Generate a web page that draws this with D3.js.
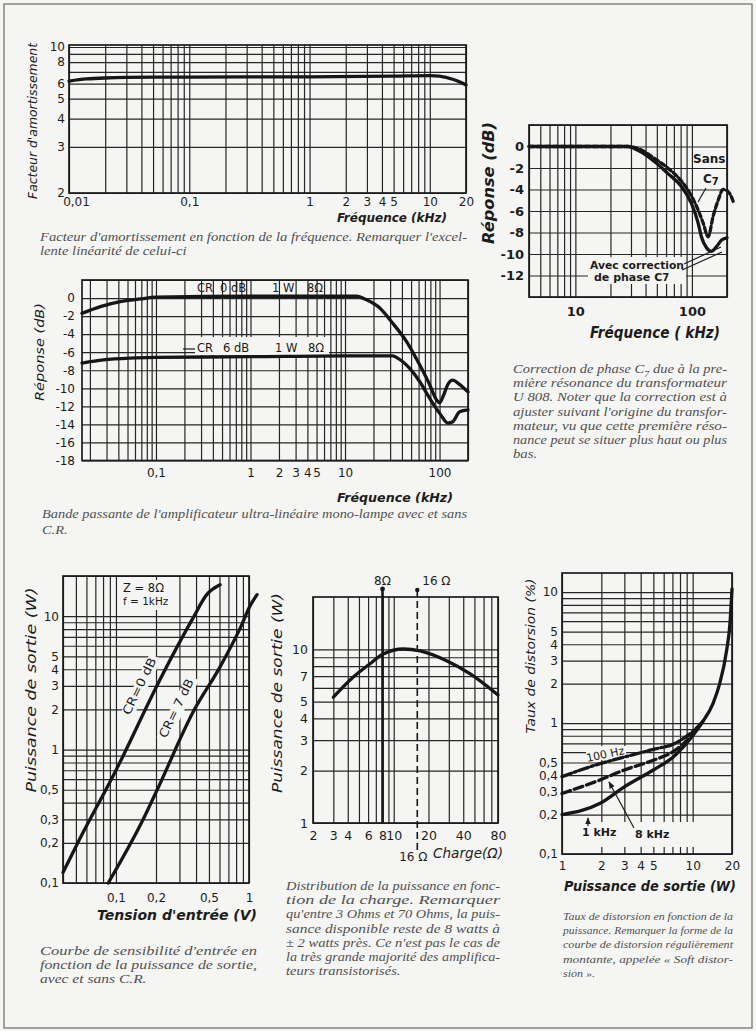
<!DOCTYPE html>
<meta charset="utf-8">
<style>
body { margin: 0; background: #f5f5f3; }
svg { display: block; }
.grid line { stroke: #262626; stroke-width: 1.2; }
.grid path, .lab path { display: none; }
.lab text { font-family: "DejaVu Sans", sans-serif; fill: #1c1c1c; }
.frame { fill: none; stroke: #1c1c1c; stroke-width: 1.7; }
.curve { fill: none; stroke: #161616; stroke-width: 3.3; stroke-linejoin: round; stroke-linecap: round; }
.ttl { font-family: "DejaVu Sans", sans-serif; font-style: italic; fill: #1c1c1c; }
.note { font-family: "DejaVu Sans", sans-serif; fill: #1c1c1c; }
.cap { font-family: "Liberation Serif", serif; font-style: italic; fill: #505050; font-size: 11.5px; }
.lead { stroke: #1c1c1c; stroke-width: 1.2; fill: none; }
</style>
<body>
<script src="https://d3js.org/d3.v7.min.js"></script>
<script>
var PAPER = "#f5f5f3";

// damping factor vs frequency (kHz)
var dampFreq   = [0.01, 0.014, 0.02, 0.05, 0.1, 1, 5, 10, 12, 15.7, 18, 20];
var dampFactor = [6.2, 6.37, 6.45, 6.52, 6.53, 6.55, 6.6, 6.65, 6.6, 6.32, 6.1, 5.9];
var dampXLabels = [0.01, 0.1, 1, 2, 3, 4, 5, 10, 20];
var dampYLabels = [2, 3, 4, 5, 6, 8, 10];

// phase correction C7 (kHz, dB)
var phaseFreqAvec = [4, 10, 20, 28, 36.5, 47.6, 62, 81, 99, 113, 120.6, 133, 147, 163, 180, 200];
var phaseAvec     = [0, 0, 0, 0, -0.5, -1.4, -2.5, -3.7, -5.3, -7.1, -8.4, -9.4, -9.75, -9.3, -8.7, -8.5];
var phaseFreqSans = [4, 10, 20, 28, 36.5, 47.6, 62, 81, 99, 113, 124.7, 137.7, 152, 168, 185, 205, 226];
var phaseSans     = [0, 0, 0, 0, -0.3, -1.1, -2.0, -3.2, -4.6, -5.9, -7.1, -8.4, -6.5, -5.0, -4.0, -4.2, -5.1];
var phaseXLabels = [10, 100];
var phaseYLabels = [0, -2, -4, -6, -8, -10, -12];

// bandwidth with and without CR (kHz, dB)
var bandFreq0 = [0.0165, 0.0258, 0.0419, 0.0684, 0.1, 1, 10, 13.2, 16.9, 23.3, 32, 44.6, 61.6, 78.6, 93, 100, 110, 122, 138, 160, 200];
var bandCR0   = [-1.7, -0.95, -0.4, -0.1, 0.1, 0.2, 0.2, 0.2, -0.2, -1.1, -2.8, -4.8, -7.4, -9.6, -11.3, -11.6, -10.8, -9.6, -9.1, -9.5, -10.4];
var bandFreq6 = [0.0165, 0.0278, 0.0538, 0.1, 1, 10, 32, 36, 48.4, 61.6, 78.6, 100, 122.7, 138, 163, 200];
var bandCR6   = [-7.2, -6.85, -6.65, -6.58, -6.5, -6.4, -6.4, -6.65, -7.8, -9.25, -11.1, -12.75, -13.85, -13.7, -12.6, -12.4];
var bandXLabels = [0.1, 1, 2, 3, 4, 5, 10, 100];
var bandYLabels = [0, -2, -4, -6, -8, -10, -12, -14, -16, -18];

// input sensitivity (V, W)
var sensV0 = [0.04, 0.0507, 0.101, 0.216, 0.38, 0.481, 0.606];
var sensP0 = [0.12, 0.193, 0.713, 3.4, 9.7, 14.5, 17.2];
var sensV7 = [0.0875, 0.16, 0.208, 0.38, 0.606, 0.857, 1.03, 1.15];
var sensP7 = [0.1, 0.299, 0.52, 1.91, 4.17, 8.1, 12.2, 14.5];
var sensXLabels = [0.1, 0.2, 0.5, 1];
var sensYLabels = [0.1, 0.2, 0.3, 0.5, 1, 2, 3, 4, 5, 10];

// power vs load (ohm, W)
var loadOhm   = [3, 4.47, 6.23, 8.1, 12.1, 16.9, 28.7, 45.7, 80];
var loadPower = [5.3, 6.93, 8.25, 9.4, 10.04, 9.8, 8.6, 7.24, 5.46];
var loadXLabels = [2, 3, 4, 6, 8, 10, 20, 40, 80];
var loadYLabels = [1, 2, 3, 4, 5, 7, 10];

// distortion vs output power (W, %)
var distP1k   = [1, 1.96, 3, 5, 7.1, 10.1, 11.9, 14.3, 16.1, 18.2, 19.3, 20];
var dist1k    = [0.2, 0.244, 0.326, 0.438, 0.55, 0.81, 1.02, 1.41, 2.0, 3.6, 5.77, 10.6];
var distPlow  = [1, 1.96, 3, 5, 7.1, 10.1, 11.9];
var dist8k    = [0.29, 0.368, 0.438, 0.52, 0.605, 0.83, 1.02];
var dist100   = [0.39, 0.49, 0.55, 0.63, 0.69, 0.87, 1.02];
var distXLabels = [1, 2, 3, 4, 5, 10, 20];
var distYLabels = [0.1, 0.2, 0.3, 0.4, 0.5, 1, 2, 3, 4, 5, 10];

var svg = d3.select("body").append("svg").attr("width", 756).attr("height", 1031);
svg.append("rect").attr("width", 756).attr("height", 1031).attr("fill", PAPER);
svg.append("rect").attr("x", 4).attr("y", 4).attr("width", 748).attr("height", 1024)
   .attr("fill", "none").attr("stroke", "#6a6a6a").attr("stroke-width", 1.2);

var defs = svg.append("defs");
defs.append("marker").attr("id", "arr").attr("viewBox", "0 0 10 10").attr("refX", 9).attr("refY", 5)
    .attr("markerWidth", 6).attr("markerHeight", 6).attr("orient", "auto")
  .append("path").attr("d", "M0,1 L10,5 L0,9 z").attr("fill", "#1c1c1c");

function fr(d) { return String(d).replace(".", ","); }

// 1..9 x 10^k gridline values between lo and hi
function decades(lo, hi) {
  var out = [];
  for (var e = Math.floor(Math.log10(lo) + 1e-9); Math.pow(10, e) <= hi * 1.0001; e++)
    for (var m = 1; m < 10; m++) {
      var v = +(m * Math.pow(10, e)).toPrecision(6);
      if (v >= lo * 0.9999 && v <= hi * 1.0001) out.push(v);
    }
  return out;
}

function panel(p) {
  var w = p.right - p.left, h = p.bottom - p.top;
  var g = svg.append("g");
  g.append("g").attr("class", "grid")
    .attr("transform", "translate(0," + p.bottom + ")")
    .call(d3.axisBottom(p.x).tickValues(p.xGrid).tickSize(-h).tickFormat(""));
  g.append("g").attr("class", "grid")
    .attr("transform", "translate(" + p.left + ",0)")
    .call(d3.axisLeft(p.y).tickValues(p.yGrid).tickSize(-w).tickFormat(""));
  p.xAxis = g.append("g").attr("class", "lab")
    .attr("transform", "translate(0," + p.bottom + ")")
    .call(d3.axisBottom(p.x).tickValues(p.xLabels).tickSize(0).tickPadding(p.xPad).tickFormat(fr))
    .attr("font-size", p.fs).attr("font-weight", p.fw || "normal");
  g.append("g").attr("class", "lab")
    .attr("transform", "translate(" + p.left + ",0)")
    .call(d3.axisLeft(p.y).tickValues(p.yLabels).tickSize(0).tickPadding(p.yPad).tickFormat(fr))
    .attr("font-size", p.fs).attr("font-weight", p.fw || "normal");
  p.g = g;
  return p;
}

function frame(p) {
  p.g.append("rect").attr("class", "frame").attr("x", p.left).attr("y", p.top)
     .attr("width", p.right - p.left).attr("height", p.bottom - p.top);
}

function mask(x, y, w, h) {
  svg.append("rect").attr("x", x).attr("y", y).attr("width", w).attr("height", h).attr("fill", PAPER);
}

function curve(p, xs, ys, width, dash) {
  var line = d3.line().x(function(d) { return p.x(d[0]); }).y(function(d) { return p.y(d[1]); })
               .curve(d3.curveMonotoneX);
  svg.append("path").attr("class", "curve").attr("d", line(d3.zip(xs, ys)))
     .attr("stroke-width", width).attr("stroke-dasharray", dash || null)
     .attr("stroke-linecap", dash ? "butt" : "round");
}

function text(x, y, s, size, cls, opts) {
  opts = opts || {};
  var t = svg.append("text").attr("class", cls || "note").attr("x", x).attr("y", y)
     .attr("font-size", size).text(s);
  if (opts.anchor) t.attr("text-anchor", opts.anchor);
  if (opts.bold) t.attr("font-weight", "bold");
  if (opts.rot) t.attr("transform", "rotate(" + opts.rot + "," + x + "," + y + ")");
  if (opts.len) t.attr("textLength", opts.len).attr("lengthAdjust", "spacingAndGlyphs");
  return t;
}

function vtitle(cx, cy, s, size, bold, len) {
  return text(cx, cy, s, size, "ttl", {anchor: "middle", rot: -90, bold: bold, len: len});
}

// justified caption; the last line gets the same horizontal stretch as the others
function caption(x, y0, width, step, lines, size) {
  var nodes = lines.map(function(s, i) {
    var t = svg.append("text").attr("class", "cap").attr("x", x).attr("y", y0 + i * step);
    if (size) t.style("font-size", size + "px");
    if (Array.isArray(s)) {
      t.append("tspan").text(s[0]);
      t.append("tspan").attr("font-size", 8).attr("dy", 4).text(s[1]);
      t.append("tspan").attr("dy", -4).text(s[2]);
    } else t.text(s);
    return t;
  });
  var ratios = [];
  nodes.forEach(function(t, i) {
    var nat = t.node().getComputedTextLength();
    if (i < nodes.length - 1) { ratios.push(width / nat); t.attr("textLength", width); }
    t.attr("lengthAdjust", "spacingAndGlyphs");
  });
  var last = nodes[nodes.length - 1];
  var r = Math.min(d3.median(ratios) || 1, 1.35);
  last.attr("textLength", last.node().getComputedTextLength() * r);
}

function lead(x1, y1, x2, y2, arrow) {
  svg.append("line").attr("class", "lead").attr("x1", x1).attr("y1", y1).attr("x2", x2).attr("y2", y2)
     .attr("marker-end", arrow ? "url(#arr)" : null);
}

// ---------- 1. Facteur d'amortissement ----------
var p1 = panel({
  x: d3.scaleLog().domain([0.01, 20]).range([69, 466]),
  y: d3.scalePow().exponent(-0.4).domain([2, 10]).range([193, 47]),
  left: 69, right: 466, top: 45, bottom: 193,
  xGrid: decades(0.01, 10).concat([20]), yGrid: [2, 3, 4, 5, 6, 7, 8, 9, 10],
  xLabels: dampXLabels, yLabels: dampYLabels, fs: 12, xPad: 4, yPad: 4
});
p1.xAxis.selectAll("text").filter(function(d) { return d === 0.01; }).attr("dx", 7);
frame(p1);
curve(p1, dampFreq, dampFactor, 3.2);
vtitle(37, 121, "Facteur d'amortissement", 12, false, 156);
text(337, 222, "Fréquence  (kHz)", 13, "ttl", {bold: true, len: 110});
caption(40, 241, 427, 14, [
  "Facteur d'amortissement en fonction de la fréquence. Remarquer l'excel-",
  "lente linéarité de celui-ci"]);

// ---------- 2. Correction de phase ----------
var p2 = panel({
  x: d3.scaleLog().domain([4, 200]).range([529, 727]),
  y: d3.scaleLinear().domain([2, -14]).range([125, 297]),
  left: 529, right: 727, top: 125, bottom: 297,
  xGrid: decades(4, 100).concat([200]), yGrid: d3.range(2, -15, -2),
  xLabels: phaseXLabels, yLabels: phaseYLabels, fs: 13, fw: "bold", xPad: 10, yPad: 5
});
mask(588, 257, 98, 27);
frame(p2);
curve(p2, phaseFreqAvec, phaseAvec, 3.6);
curve(p2, phaseFreqSans, phaseSans, 3.0, "5,3");
vtitle(494, 183, "Réponse (dB)", 15, true, 122);
text(590, 338, "Fréquence ( kHz)", 15, "ttl", {bold: true, len: 130});
text(693, 163, "Sans", 12, "note", {bold: true});
var c7 = text(703, 183, "C", 12, "note", {bold: true});
c7.append("tspan").attr("font-size", 10).attr("dy", 2).text("7");
lead(706, 188, 698, 202, false);
text(590, 269, "Avec correction", 11, "note", {bold: true, len: 94});
var ph = text(594, 281, "de phase C", 11, "note", {bold: true});
ph.append("tspan").attr("font-size", 10).text("7");
lead(684, 264, 721, 247, false);
lead(682, 270, 722, 252, false);
caption(513, 373, 214, 14.2, [
  ["Correction de phase C", "7", " due à la pre-"],
  "mière résonance du transformateur",
  "U 808. Noter que la correction est à",
  "ajuster suivant l'origine du transfor-",
  "mateur, vu que cette première réso-",
  "nance peut se situer plus haut ou plus",
  "bas."]);

// ---------- 3. Bande passante ----------
var p3 = panel({
  x: d3.scaleLog().domain([0.0165, 200]).range([82, 468]),
  y: d3.scaleLinear().domain([2, -18]).range([280, 460.5]),
  left: 82, right: 468, top: 280, bottom: 460.5,
  xGrid: decades(0.02, 100).concat([200]), yGrid: d3.range(2, -19, -2),
  xLabels: bandXLabels, yLabels: bandYLabels, fs: 12, xPad: 8, yPad: 7
});
mask(195, 337, 134, 18);
frame(p3);
curve(p3, bandFreq0, bandCR0, 3.2);
curve(p3, bandFreq6, bandCR6, 3.2);
[["CR", 197], ["0 dB", 220], ["1 W", 272], ["8Ω", 307]].forEach(function(d) { text(d[1], 292, d[0], 11.5); });
[["CR", 197], ["6 dB", 223], ["1 W", 275], ["8Ω", 308]].forEach(function(d) { text(d[1], 352, d[0], 11.5); });
lead(183, 349, 195, 349, false);
vtitle(44, 352, "Réponse  (dB)", 13, false, 98);
text(337, 502, "Fréquence   (kHz)", 13, "ttl", {bold: true, len: 116});
caption(42, 518, 425, 16, [
  "Bande passante de l'amplificateur ultra-linéaire mono-lampe avec et sans",
  "C.R."]);

// ---------- 4. Sensibilité d'entrée ----------
var p4 = panel({
  x: d3.scaleLog().domain([0.04, 1]).range([63, 249]),
  y: d3.scaleLog().domain([0.1, 20]).range([883, 576]),
  left: 63, right: 249, top: 576, bottom: 883,
  xGrid: decades(0.04, 1), yGrid: decades(0.1, 10).concat([20]),
  xLabels: sensXLabels, yLabels: sensYLabels, fs: 12, xPad: 10, yPad: 4
});
mask(119, 580, 51, 30);
function rotLabel(cx, cy, ang, s, w) {
  var g = svg.append("g").attr("transform", "translate(" + cx + "," + cy + ") rotate(" + ang + ")");
  g.append("rect").attr("x", -w / 2 - 3).attr("y", -9).attr("width", w + 6).attr("height", 13).attr("fill", PAPER);
  g.append("text").attr("class", "note").attr("text-anchor", "middle").attr("y", 0)
   .attr("font-size", 12).attr("textLength", w).attr("lengthAdjust", "spacingAndGlyphs").text(s);
}
rotLabel(143, 688, -64, "CR=0 dB", 62);
rotLabel(180, 710, -64, "CR= 7 dB", 64);
frame(p4);
curve(p4, sensV0, sensP0, 3.6);
curve(p4, sensV7, sensP7, 3.6);
text(123, 592, "Z = 8Ω", 11.5);
text(123, 605, "f = 1kHz", 10.5);
vtitle(36, 690, "Puissance de sortie (W)", 14, false, 205);
text(97, 920, "Tension  d'entrée (V)", 14, "ttl", {bold: true, len: 160});
caption(40, 955, 217, 14, [
  "Courbe de sensibilité d'entrée en",
  "fonction de la puissance de sortie,",
  "avec et sans C.R."]);

// ---------- 5. Puissance / charge ----------
var p5 = panel({
  x: d3.scaleLog().domain([2, 80]).range([313, 498]),
  y: d3.scaleLog().domain([1, 20]).range([823, 597]),
  left: 313, right: 498, top: 597, bottom: 823,
  xGrid: decades(2, 80), yGrid: decades(1, 10),
  xLabels: loadXLabels, yLabels: loadYLabels, fs: 12.5, xPad: 8, yPad: 5
});
frame(p5);
svg.append("line").attr("x1", p5.x(8)).attr("x2", p5.x(8)).attr("y1", 588).attr("y2", 823)
   .attr("stroke", "#161616").attr("stroke-width", 2.6);
svg.append("circle").attr("cx", p5.x(8)).attr("cy", 589).attr("r", 2.4).attr("fill", "#161616");
svg.append("line").attr("x1", p5.x(16)).attr("x2", p5.x(16)).attr("y1", 590).attr("y2", 850)
   .attr("stroke", "#161616").attr("stroke-width", 1.6).attr("stroke-dasharray", "7,4");
svg.append("circle").attr("cx", p5.x(16)).attr("cy", 590).attr("r", 2.2).attr("fill", "#161616");
curve(p5, loadOhm, loadPower, 3.2);
text(p5.x(8), 585, "8Ω", 12, "note", {anchor: "middle"});
text(p5.x(16) + 5, 585, "16 Ω", 12);
text(p5.x(16) - 4, 861, "16 Ω", 12, "note", {anchor: "middle"});
text(433, 858, "Charge(Ω)", 14, "ttl", {len: 70});
vtitle(282, 693, "Puissance de sortie (W)", 14, false, 200);
caption(286, 890, 214, 14.2, [
  "Distribution de la puissance en fonc-",
  "tion de la charge. Remarquer",
  "qu'entre 3 Ohms et 70 Ohms, la puis-",
  "sance disponible reste de 8 watts à",
  "± 2 watts près. Ce n'est pas le cas de",
  "la très grande majorité des amplifica-",
  "teurs transistorisés."]);

// ---------- 6. Taux de distorsion ----------
var p6 = panel({
  x: d3.scaleLog().domain([1, 20]).range([562, 732]),
  y: d3.scaleLog().domain([0.1, 14]).range([854, 573]),
  left: 562, right: 732, top: 573, bottom: 854,
  xGrid: decades(1, 10).concat([20]), yGrid: decades(0.1, 10),
  xLabels: distXLabels, yLabels: distYLabels, fs: 12, xPad: 7, yPad: 4
});
mask(574, 822, 128, 25);
mask(586, 746, 40, 14);
frame(p6);
curve(p6, distPlow, dist100, 2.6, "10,3,2,3");
curve(p6, distPlow, dist8k, 2.6, "9,4");
curve(p6, distP1k, dist1k, 3.6);
text(606, 758, "100 Hz", 11, "note", {anchor: "middle", rot: -12, bold: false});
text(582, 836, "1 kHz", 11, "note", {bold: true});
text(635, 838, "8 kHz", 11, "note", {bold: true});
lead(588, 826, 588, 818, true);
lead(634, 828, 609, 782, true);
vtitle(535, 656, "Taux de distorsion (%)", 13, false, 155);
text(650, 891, "Puissance de sortie (W)", 14, "ttl", {anchor: "middle", bold: true, len: 172});
caption(563, 920, 170, 14.2, [
  "Taux de distorsion en fonction de la",
  "puissance. Remarquer la forme de la",
  "courbe de distorsion régulièrement",
  "montante,   appelée  « Soft   distor-",
  "sion »."], 10.5);
</script>
</body>
